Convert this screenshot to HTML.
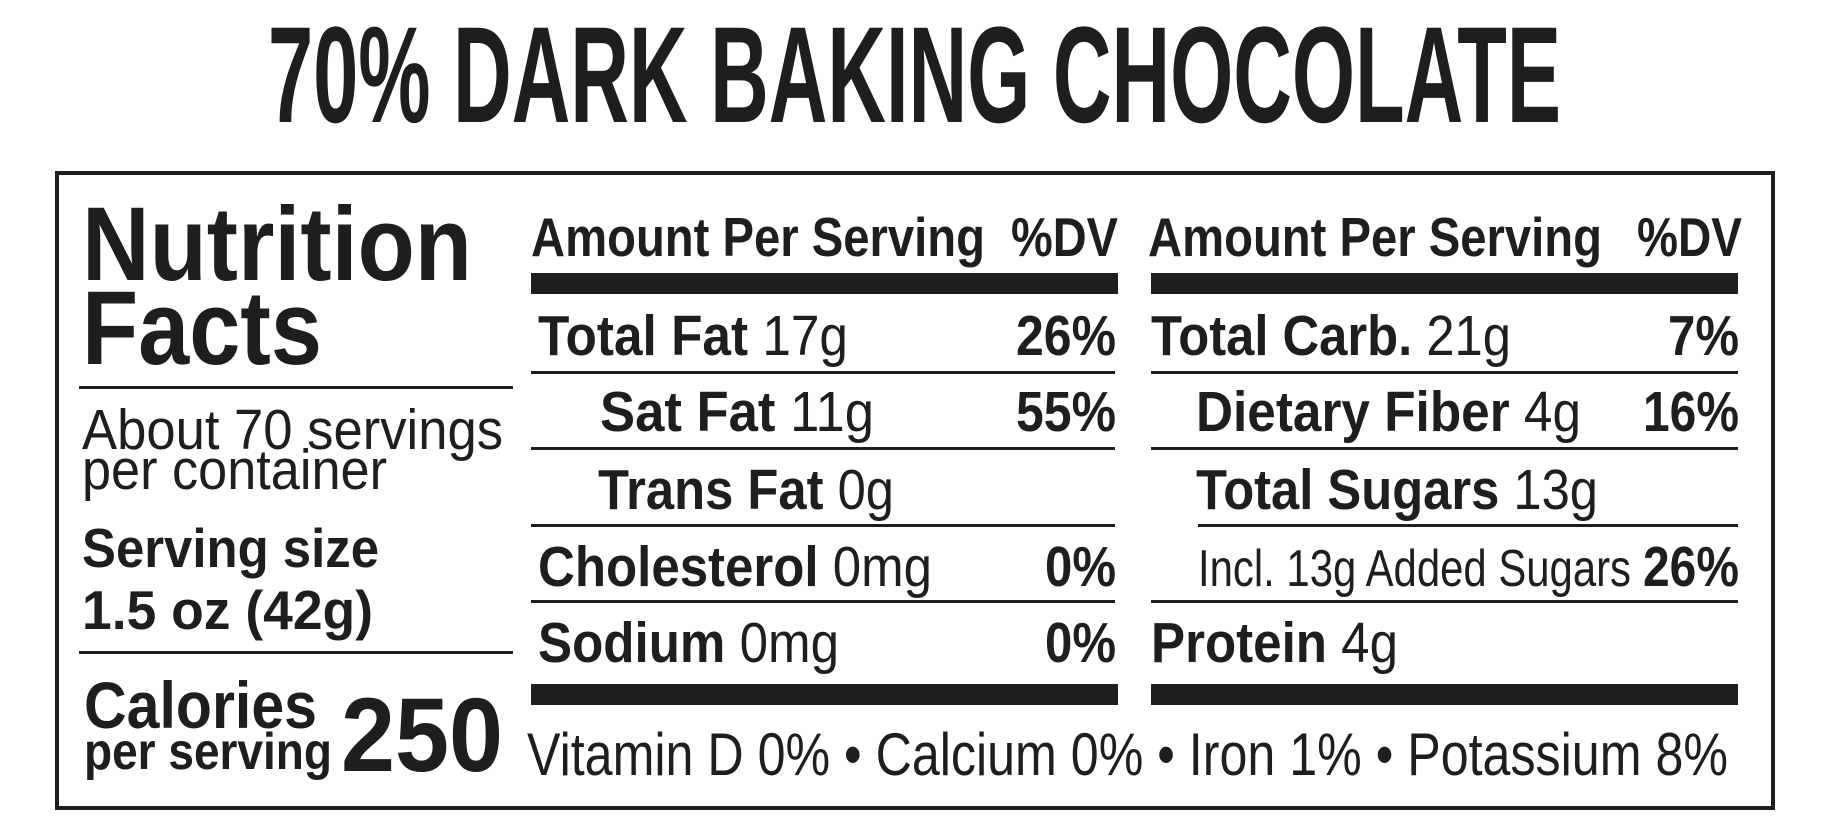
<!DOCTYPE html>
<html><head><meta charset="utf-8"><style>
html,body{margin:0;padding:0;background:#fff;}
svg{display:block}
text{font-family:"Liberation Sans Narrow","Liberation Sans",sans-serif;fill:#1e1e1e}
.b{font-weight:bold}
</style></head><body>
<svg width="1827" height="819" viewBox="0 0 1827 819" xmlns="http://www.w3.org/2000/svg">
<rect width="1827" height="819" fill="#fff"/>
<text x="268" y="122" font-size="137" class="b" textLength="1293" lengthAdjust="spacingAndGlyphs">70% DARK BAKING CHOCOLATE</text>
<rect x="57" y="173" width="1716" height="635" fill="none" stroke="#1e1e1e" stroke-width="4"/>
<!-- left panel -->
<text x="82" y="280" font-size="105" class="b" textLength="390" lengthAdjust="spacingAndGlyphs">Nutrition</text>
<text x="82" y="364" font-size="105" class="b" textLength="240" lengthAdjust="spacingAndGlyphs">Facts</text>
<rect x="79" y="386" width="434" height="3" fill="#1e1e1e"/>
<text x="82" y="449" font-size="57" textLength="421" lengthAdjust="spacingAndGlyphs">About 70 servings</text>
<text x="82" y="489" font-size="57" textLength="305" lengthAdjust="spacingAndGlyphs">per container</text>
<text x="82" y="567" font-size="55" class="b" textLength="297" lengthAdjust="spacingAndGlyphs">Serving size</text>
<text x="82" y="629" font-size="55" class="b" textLength="291" lengthAdjust="spacingAndGlyphs">1.5 oz (42g)</text>
<rect x="79" y="651" width="434" height="3" fill="#1e1e1e"/>
<text x="84" y="728" font-size="66" class="b" textLength="233" lengthAdjust="spacingAndGlyphs">Calories</text>
<text x="84" y="769" font-size="52" class="b" textLength="248" lengthAdjust="spacingAndGlyphs">per serving</text>
<text x="341" y="771" font-size="105" class="b" textLength="162" lengthAdjust="spacingAndGlyphs">250</text>
<!-- column 1 -->
<text x="531" y="256" font-size="55" class="b" textLength="454" lengthAdjust="spacingAndGlyphs">Amount Per Serving</text>
<text x="1011" y="256" font-size="55" class="b" textLength="107" lengthAdjust="spacingAndGlyphs">%DV</text>
<rect x="531" y="273" width="587" height="21" fill="#1e1e1e"/>
<text x="538" y="355" font-size="57" textLength="310" lengthAdjust="spacingAndGlyphs"><tspan class="b">Total Fat</tspan> 17g</text>
<text x="1016" y="355" font-size="57" class="b" textLength="100" lengthAdjust="spacingAndGlyphs">26%</text>
<rect x="531" y="371" width="584" height="3" fill="#1e1e1e"/>
<text x="600" y="431" font-size="57" textLength="274" lengthAdjust="spacingAndGlyphs"><tspan class="b">Sat Fat</tspan> 11g</text>
<text x="1016" y="431" font-size="57" class="b" textLength="100" lengthAdjust="spacingAndGlyphs">55%</text>
<rect x="531" y="447" width="584" height="3" fill="#1e1e1e"/>
<text x="598" y="509" font-size="57" textLength="296" lengthAdjust="spacingAndGlyphs"><tspan class="b">Trans Fat</tspan> 0g</text>
<rect x="531" y="524" width="584" height="3" fill="#1e1e1e"/>
<text x="538" y="586" font-size="57" textLength="394" lengthAdjust="spacingAndGlyphs"><tspan class="b">Cholesterol</tspan> 0mg</text>
<text x="1045" y="586" font-size="57" class="b" textLength="71" lengthAdjust="spacingAndGlyphs">0%</text>
<rect x="531" y="600" width="584" height="3" fill="#1e1e1e"/>
<text x="538" y="662" font-size="57" textLength="301" lengthAdjust="spacingAndGlyphs"><tspan class="b">Sodium</tspan> 0mg</text>
<text x="1045" y="662" font-size="57" class="b" textLength="71" lengthAdjust="spacingAndGlyphs">0%</text>
<rect x="531" y="684" width="587" height="21" fill="#1e1e1e"/>
<!-- column 2 -->
<text x="1148" y="256" font-size="55" class="b" textLength="454" lengthAdjust="spacingAndGlyphs">Amount Per Serving</text>
<text x="1637" y="256" font-size="55" class="b" textLength="105" lengthAdjust="spacingAndGlyphs">%DV</text>
<rect x="1151" y="273" width="587" height="21" fill="#1e1e1e"/>
<text x="1151" y="355" font-size="57" textLength="360" lengthAdjust="spacingAndGlyphs"><tspan class="b">Total Carb.</tspan> 21g</text>
<text x="1668" y="355" font-size="57" class="b" textLength="71" lengthAdjust="spacingAndGlyphs">7%</text>
<rect x="1151" y="371" width="587" height="3" fill="#1e1e1e"/>
<text x="1196" y="431" font-size="57" textLength="385" lengthAdjust="spacingAndGlyphs"><tspan class="b">Dietary Fiber</tspan> 4g</text>
<text x="1643" y="431" font-size="57" class="b" textLength="96" lengthAdjust="spacingAndGlyphs">16%</text>
<rect x="1151" y="447" width="587" height="3" fill="#1e1e1e"/>
<text x="1196" y="509" font-size="57" textLength="402" lengthAdjust="spacingAndGlyphs"><tspan class="b">Total Sugars</tspan> 13g</text>
<rect x="1198" y="524" width="540" height="3" fill="#1e1e1e"/>
<text x="1198" y="586" font-size="52" textLength="433" lengthAdjust="spacingAndGlyphs">Incl. 13g Added Sugars</text>
<text x="1643" y="586" font-size="57" class="b" textLength="96" lengthAdjust="spacingAndGlyphs">26%</text>
<rect x="1151" y="600" width="587" height="3" fill="#1e1e1e"/>
<text x="1151" y="662" font-size="57" textLength="247" lengthAdjust="spacingAndGlyphs"><tspan class="b">Protein</tspan> 4g</text>
<rect x="1151" y="684" width="587" height="21" fill="#1e1e1e"/>
<text x="527" y="775" font-size="60" textLength="1201" lengthAdjust="spacingAndGlyphs">Vitamin D 0% • Calcium 0% • Iron 1% • Potassium 8%</text>
</svg>
</body></html>
